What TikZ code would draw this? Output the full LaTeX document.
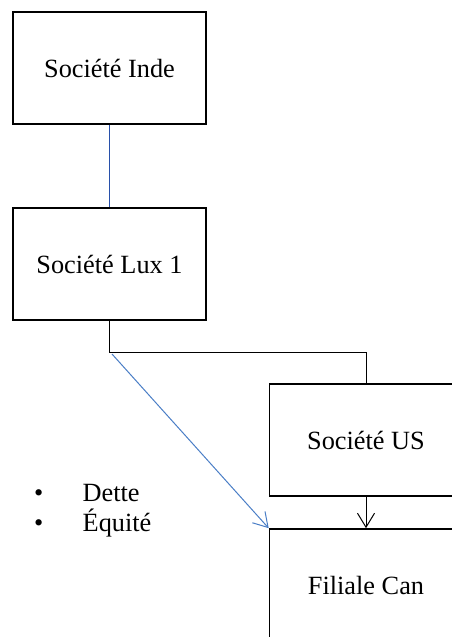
\documentclass[tikz,border=0pt]{standalone}
\usepackage{fontspec}
\setmainfont{Liberation Serif}
\usetikzlibrary{arrows.meta}
\definecolor{arrowblue}{RGB}{74,126,198}
\definecolor{darkblue}{RGB}{40,80,170}
\begin{document}
\begin{tikzpicture}[x=1pt,y=-1pt,
  box/.style={draw=black,line width=1.6pt,minimum width=193pt,minimum height=112pt,inner sep=0pt,font=\fontsize{26.3}{30}\selectfont},
  conn/.style={line width=1pt},
  barb/.style={-{Straight Barb[length=14pt,width=17pt,line width=1pt]}},
  bul/.style={anchor=base west,inner sep=0pt,font=\fontsize{26.3}{30}\selectfont}]
\useasboundingbox (0,0) rectangle (452,637);
\node[box] (inde) at (109.5,68) {Société Inde};
\node[box] (lux) at (109.5,264) {Société Lux 1};
\node[box] (us) at (366,440) {Société US};
\node[box] (can) at (366,585) {Filiale Can};
\coordinate (split) at (109.5,352.5);
\coordinate (bstart) at (112,354);
\draw[conn,line width=1.1pt,draw=darkblue] (inde.south) -- (lux.north);
\draw[conn] (lux.south) -- (split) -| (us.north);
\draw[conn,barb] (us.south) -- (can.north);
\draw[conn,barb,draw=arrowblue] (bstart) -- (can.north west);
\node[bul] (b1) at (34,501) {•};
\node[bul] (b2) at (34,531) {•};
\node[bul] (t1) at (82.5,501) {Dette};
\node[bul] (t2) at (82.5,531) {Équité};
\end{tikzpicture}
\end{document}
